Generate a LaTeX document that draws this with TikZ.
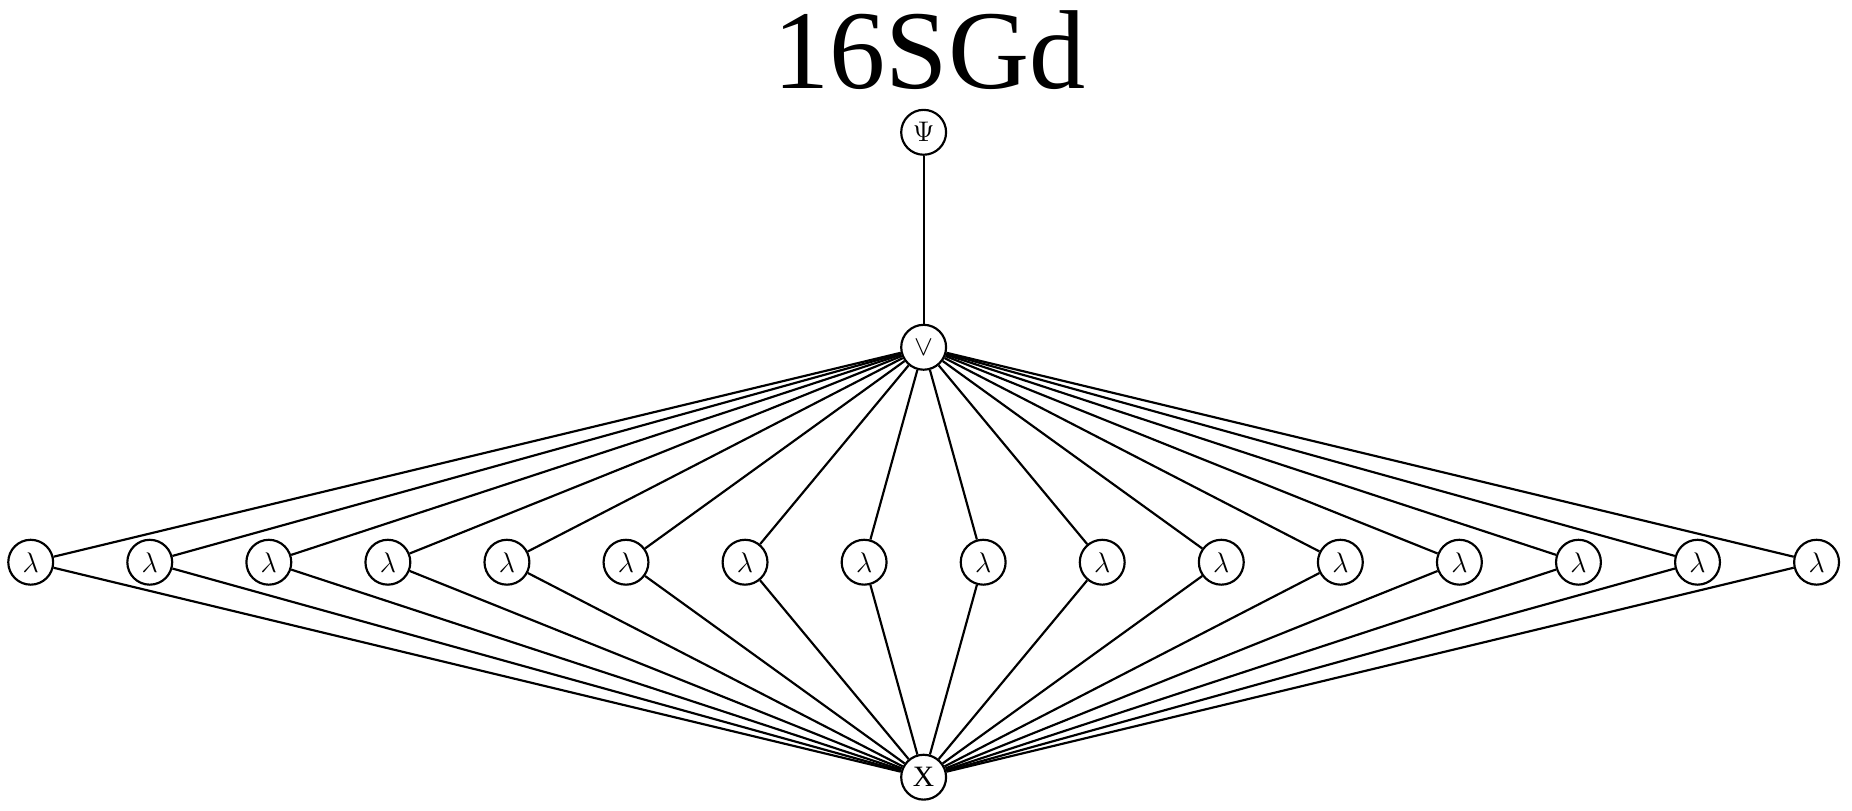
\documentclass[tikz,border=0pt]{standalone}
\usepackage{fontspec}
\setmainfont{Liberation Serif}
\begin{document}
\begin{tikzpicture}[x=0.6pt,y=-0.6pt,
  nd/.style={circle,draw,line width=1.1pt,minimum size=22.8pt,inner sep=0pt,font=\fontsize{15}{15}\selectfont},
  ed/.style={line width=1.1pt}]
\useasboundingbox (0,0) rectangle (1568,686);
\node[anchor=base,font=\fontsize{57}{57}\selectfont] (t) at (787,75) {16SGd};
\node[nd] (psi) at (782,112) {$\Psi$};
\node[nd] (or) at (782,294) {$\vee$};
\node[nd] (x) at (782,658) {X};
\draw[ed] (psi) -- (or);
\foreach \i in {0,...,15}{
  \node[nd] (l\i) at ({26+100.8*\i},476) {$\lambda$};
  \draw[ed] (or) -- (l\i);
  \draw[ed] (l\i) -- (x);
}
\end{tikzpicture}
\end{document}
